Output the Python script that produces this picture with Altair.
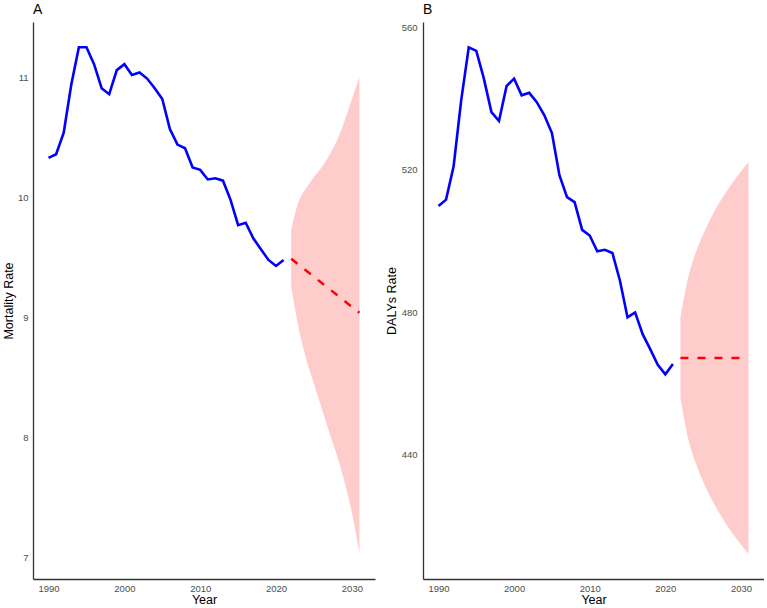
import altair as alt
import pandas as pd

# ---- observed series (1990-2021) ----
hist_years = list(range(1990, 2022))
mortality_hist = [10.33, 10.36, 10.54, 10.94, 11.25, 11.25, 11.11, 10.91, 10.86, 11.06,
                  11.11, 11.02, 11.04, 10.99, 10.91, 10.82, 10.57, 10.44, 10.41, 10.25,
                  10.23, 10.15, 10.16, 10.14, 9.98, 9.77, 9.79, 9.66, 9.57, 9.48,
                  9.43, 9.48]
dalys_hist = [509.8, 511.6, 521.0, 539.5, 554.4, 553.4, 545.6, 536.2, 533.7, 543.5,
              545.6, 540.9, 541.6, 539.0, 535.3, 530.3, 518.4, 512.3, 510.9, 503.1,
              501.5, 497.1, 497.5, 496.6, 488.8, 478.5, 479.9, 473.8, 469.6, 465.2,
              462.5, 465.4]

# ---- projections (2022-2031) with prediction interval ----
fc_years = list(range(2022, 2032))
mortality_mean = [9.49, 9.44, 9.39, 9.34, 9.29, 9.24, 9.19, 9.14, 9.09, 9.04]
mortality_lower = [9.26, 8.91, 8.65, 8.45, 8.25, 8.05, 7.86, 7.64, 7.38, 7.035]
mortality_upper = [9.73, 9.97, 10.08, 10.17, 10.25, 10.35, 10.47, 10.63, 10.82, 11.0]

dalys_mean = [467.1] * 10
dalys_lower = [455.7, 444.7, 437.7, 432.4, 427.9, 424.0, 420.6, 417.5, 414.7, 412.1]
dalys_upper = [478.5, 489.5, 496.5, 501.8, 506.3, 510.2, 513.6, 516.7, 519.5, 522.1]

FONT = "Liberation Sans"


def padded(lo, hi, frac=0.05):
    span = hi - lo
    return [lo - frac * span, hi + frac * span]


def panel(tag, ytitle, hist, mean, lower, upper, yticks, width, lab_pad, title_pad):
    hist_df = pd.DataFrame({"Year": hist_years, "Rate": hist})
    fc_df = pd.DataFrame({"Year": fc_years, "Rate": mean,
                          "Lower": lower, "Upper": upper})

    x_dom = padded(min(hist_years), max(fc_years))
    y_dom = padded(min(hist + lower), max(hist + upper))

    x = alt.X("Year:Q",
              scale=alt.Scale(domain=x_dom, nice=False, zero=False),
              axis=alt.Axis(values=[1990, 2000, 2010, 2020, 2030], format="d",
                            title="Year", labelPadding=4, titlePadding=1))
    y_axis = alt.Axis(values=yticks, format="d", title=ytitle,
                      labelPadding=lab_pad, titlePadding=title_pad)
    y_scale = alt.Scale(domain=y_dom, nice=False, zero=False)

    band = alt.Chart(fc_df).mark_area(
        color="#FFCCCC", opacity=1, interpolate="monotone").encode(
        x=x,
        y=alt.Y("Lower:Q", scale=y_scale, axis=y_axis),
        y2="Upper:Q",
    )
    observed = alt.Chart(hist_df).mark_line(color="#0000FF", strokeWidth=2.6).encode(
        x="Year:Q", y="Rate:Q")
    projected = alt.Chart(fc_df).mark_line(
        color="#FF0000", strokeWidth=2.4, strokeDash=[8, 9]).encode(
        x="Year:Q", y="Rate:Q")

    return alt.layer(band, observed, projected).properties(
        width=width, height=557,
        title=alt.TitleParams(tag, anchor="start", frame="group", fontSize=14,
                              fontWeight="normal", font=FONT, color="#000000",
                              offset=5),
    )


left = panel("A", "Mortality Rate", mortality_hist, mortality_mean,
             mortality_lower, mortality_upper, [7, 8, 9, 10, 11], 342, 5, 2)
right = panel("B", "DALYs Rate", dalys_hist, dalys_mean,
              dalys_lower, dalys_upper, [440, 480, 520, 560], 341, 6, 3)

chart = alt.hconcat(left, right, spacing=10).properties(
    padding={"left": 2, "top": 3, "right": 0, "bottom": 0},
    background="white",
).configure_view(stroke=None).configure_axis(
    grid=False,
    ticks=False,
    domainColor="#333333",
    domainWidth=1.3,
    labelColor="#4D4D4D",
    labelFont=FONT,
    labelFontSize=9.5,
    titleFont=FONT,
    titleFontSize=12.5,
    titleFontWeight="normal",
    titleColor="#000000",
)

chart.save("out.html", embed_options={"renderer": "svg", "actions": False})
